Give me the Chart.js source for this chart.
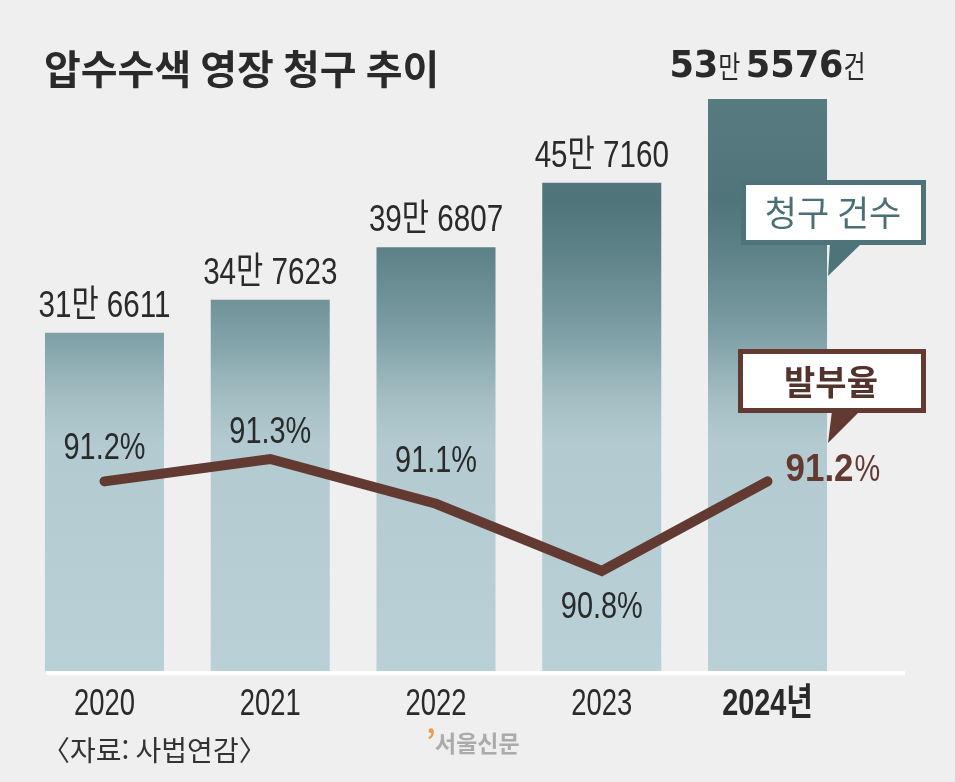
<!DOCTYPE html>
<html lang="ko">
<head>
<meta charset="utf-8">
<script src="https://cdn.jsdelivr.net/npm/chart.js@4.4.1/dist/chart.umd.min.js"></script>
<style>
  html, body { margin: 0; padding: 0; background: #efefef; }
  #wrap { width: 955px; height: 782px; }
</style>
</head>
<body>
<div id="wrap"><canvas id="chart" width="955" height="782"></canvas></div>
<script>
// Data
const years = ['2020', '2021', '2022', '2023', '2024'];
const yearLabels = ['2020', '2021', '2022', '2023', '2024년'];
const requests = [316611, 347623, 396807, 457160, 535576];   // 청구 건수
const issueRate = [91.2, 91.3, 91.1, 90.8, 91.2];            // 발부율 (%)

const titleText = '압수수색 영장 청구 추이';
const sourceText = '〈자료: 사법연감〉';

// Styling
const SANS = "'Liberation Sans', Arial, 'Noto Sans CJK KR', sans-serif";
const KR = "'Noto Sans CJK KR', 'Noto Sans', sans-serif";
const TEAL = '#4e7379';
const BROWN = '#633a31';
const INK = '#2a2a2a';

// label offset (baseline vs point) for the percent labels of the first four years
const pctDy = [-22, -16, -32, 47];

function fmtMan(v) {
    return [Math.floor(v / 10000), String(v % 10000)];
}

// draw text squeezed horizontally (the paper uses a condensed face); returns drawn width
function squeezed(ctx, text, x, y, font, align, sx) {
    ctx.font = font;
    const w = ctx.measureText(text).width * sx;
    let left = x;
    if (align === 'center') left = x - w / 2;
    else if (align === 'right') left = x - w;
    ctx.save();
    ctx.translate(left, y);
    ctx.scale(sx, 1);
    ctx.textAlign = 'left';
    ctx.fillText(text, 0, 0);
    ctx.restore();
    return w;
}

// Vertical gradient tied to the chart area, shared by all bars
function barGradient(context) {
    const chart = context.chart;
    const area = chart.chartArea;
    if (!area) return TEAL;
    const g = chart.ctx.createLinearGradient(0, area.top, 0, area.bottom);
    g.addColorStop(0, '#587b80');
    g.addColorStop(0.19, '#4f747a');
    g.addColorStop(0.29, '#5f8489');
    g.addColorStop(0.41, '#7b9da3');
    g.addColorStop(0.53, '#a3bec3');
    g.addColorStop(0.61, '#b3cbd0');
    g.addColorStop(1, '#b9d1d6');
    return g;
}

const decorations = {
    id: 'decorations',
    afterDatasetsDraw(chart) {
        const ctx = chart.ctx;
        const x = chart.scales.x;
        const y = chart.scales.y;
        const y2 = chart.scales.y2;
        const area = chart.chartArea;
        ctx.save();

        // baseline
        ctx.fillStyle = '#ffffff';
        ctx.fillRect(46, area.bottom, 859, 4);

        // title
        ctx.fillStyle = INK;
        ctx.font = 'bold 40px ' + KR;
        ctx.textBaseline = 'middle';
        ctx.textAlign = 'left';
        ctx.fillText(titleText, 44, 69);

        // bar value labels
        ctx.textBaseline = 'alphabetic';
        requests.forEach((v, i) => {
            const cx = x.getPixelForValue(i);
            const top = y.getPixelForValue(v);
            const [man, rest] = fmtMan(v);
            ctx.fillStyle = INK;
            if (i < requests.length - 1) {
                squeezed(ctx, man + '만 ' + rest, cx, top - 16, '37px ' + SANS, 'center', 0.8);
            } else {
                // last one: heavy numbers, light units
                const heavy = 'bold 37px "DejaVu Sans", sans-serif';
                const light = '30px ' + KR;
                const parts = [[String(man), heavy, 0.95], ['만 ', light, 0.8], [rest, heavy, 0.95], ['건', light, 0.8]];
                let w = 0;
                parts.forEach(p => { ctx.font = p[1]; w += ctx.measureText(p[0]).width * p[2]; });
                let px = cx - w / 2;
                parts.forEach(p => {
                    px += squeezed(ctx, p[0], px, top - 22, p[1], 'left', p[2]);
                });
            }
        });

        // percent labels
        issueRate.forEach((v, i) => {
            const cx = x.getPixelForValue(i);
            const py = y2.getPixelForValue(v);
            if (i < issueRate.length - 1) {
                ctx.fillStyle = INK;
                squeezed(ctx, v.toFixed(1) + '%', cx, py + pctDy[i], '37px ' + SANS, 'center', 0.78);
            } else {
                ctx.fillStyle = BROWN;
                const nw = squeezed(ctx, v.toFixed(1), cx + 18, py, 'bold 38px ' + SANS, 'left', 0.92);
                squeezed(ctx, '%', cx + 18 + nw + 1, py, '37px ' + SANS, 'left', 0.78);
            }
        });

        // callout: 청구 건수
        ctx.fillStyle = TEAL;
        ctx.beginPath();
        ctx.moveTo(830, 243);
        ctx.lineTo(862, 243);
        ctx.lineTo(828, 276);
        ctx.closePath();
        ctx.fill();
        ctx.fillStyle = '#ffffff';
        ctx.fillRect(741, 180, 185, 65);
        ctx.strokeStyle = TEAL;
        ctx.lineWidth = 5;
        ctx.strokeRect(743.5, 182.5, 180, 60);
        ctx.fillStyle = '#4a7076';
        ctx.font = '35px ' + KR;
        ctx.textAlign = 'center';
        ctx.textBaseline = 'middle';
        ctx.fillText('청구 건수', 833, 213);

        // callout: 발부율
        ctx.fillStyle = BROWN;
        ctx.beginPath();
        ctx.moveTo(832, 411);
        ctx.lineTo(860, 411);
        ctx.lineTo(828, 443);
        ctx.closePath();
        ctx.fill();
        ctx.fillStyle = '#ffffff';
        ctx.fillRect(738, 349, 188, 64);
        ctx.strokeStyle = BROWN;
        ctx.strokeRect(740.5, 351.5, 183, 59);
        ctx.fillStyle = '#53342d';
        ctx.font = 'bold 34px ' + KR;
        ctx.fillText('발부율', 831, 382);

        // x labels
        ctx.textBaseline = 'alphabetic';
        yearLabels.forEach((lab, i) => {
            const cx = x.getPixelForValue(i);
            const last = i === yearLabels.length - 1;
            ctx.fillStyle = INK;
            squeezed(ctx, lab, cx, 715, (last ? 'bold ' : '') + '37px ' + SANS, 'center', last ? 0.78 : 0.74);
        });

        // source
        ctx.fillStyle = '#333333';
        squeezed(ctx, sourceText, 42, 761, '28px ' + KR, 'left', 1);

        // watermark
        ctx.fillStyle = '#e8a050';
        ctx.font = 'bold 30px ' + KR;
        ctx.textAlign = 'left';
        ctx.fillText('’', 426, 752);
        ctx.fillStyle = '#ababab';
        squeezed(ctx, '서울신문', 435, 752, 'bold 23px ' + KR, 'left', 1);

        ctx.restore();
    }
};

new Chart(document.getElementById('chart'), {
    data: {
        labels: years,
        datasets: [
            {
                type: 'line',
                label: '발부율',
                data: issueRate,
                yAxisID: 'y2',
                borderColor: BROWN,
                borderWidth: 10,
                borderCapStyle: 'round',
                borderJoinStyle: 'miter',
                pointRadius: 0,
                tension: 0,
                order: 0
            },
            {
                type: 'bar',
                label: '청구 건수',
                data: requests,
                yAxisID: 'y',
                backgroundColor: barGradient,
                borderWidth: 0,
                barPercentage: 0.718,
                categoryPercentage: 1,
                order: 1
            }
        ]
    },
    options: {
        responsive: false,
        animation: false,
        devicePixelRatio: 1,
        layout: {
            padding: { left: 21.6, right: 104.6, top: 90, bottom: 111 }
        },
        plugins: {
            legend: { display: false },
            tooltip: { enabled: false },
            title: { display: false }
        },
        scales: {
            x: { display: false, offset: true },
            y: { display: false, min: 0, max: 544000 },
            y2: { display: false, min: 90.3536, max: 92.947, position: 'right' }
        }
    },
    plugins: [decorations]
});
</script>
</body>
</html>
